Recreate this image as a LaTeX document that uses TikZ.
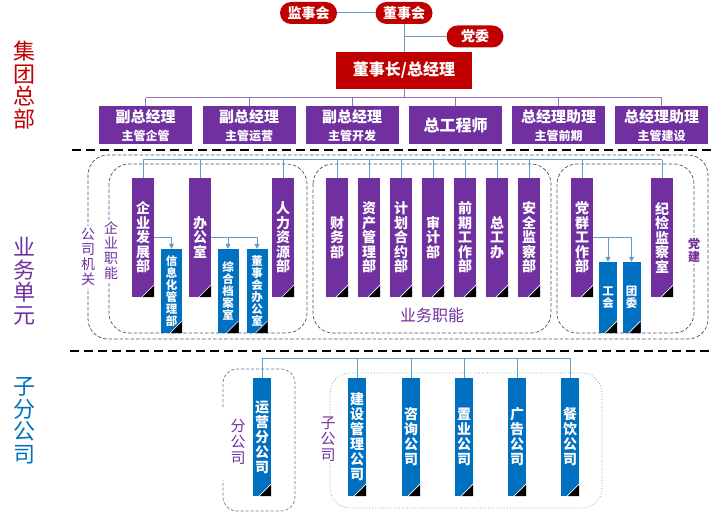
\documentclass[tikz,border=0pt]{standalone}
\usepackage{fontspec}
\setmainfont{Noto Sans CJK SC}
\usetikzlibrary{arrows.meta}
\definecolor{hqred}{RGB}{192,0,0}
\definecolor{unitpurple}{RGB}{112,48,160}
\definecolor{subblue}{RGB}{0,112,192}
\definecolor{linkblue}{RGB}{100,155,205}
\definecolor{linkpurple}{RGB}{150,115,190}
\definecolor{grpgray}{RGB}{85,75,105}
\definecolor{grpblue}{RGB}{95,125,155}

\begin{document}
\begin{tikzpicture}[x=1pt,y=-1pt,>={Triangle[length=5pt,width=5pt]}]
    \tikzset{
        pill/.style={
            fill=hqred,
            text=white,
            rounded corners=11pt,
            minimum width=57pt,
            minimum height=22pt,
            inner sep=0pt,
            font=\bfseries\fontsize{14}{14}\selectfont
        },
        chief/.style={
            fill=hqred,
            text=white,
            minimum width=136pt,
            minimum height=37pt,
            inner sep=0pt,
            font=\bfseries\fontsize{16}{16}\selectfont
        },
        vp/.style={
            fill=unitpurple,
            text=white,
            minimum width=93pt,
            minimum height=38pt,
            inner sep=0pt,
            align=center,
            font=\bfseries\fontsize{15}{18}\selectfont
        },
        corner/.style={
            path picture={
                \fill[black] (path picture bounding box.south east)
                    -- ++(0pt,12pt) -- ++(-12pt,-12pt) -- cycle;
                \draw[white,line width=0.7pt]
                    ([shift={(0pt,12pt)}]path picture bounding box.south east)
                    -- ([shift={(-12pt,0pt)}]path picture bounding box.south east);
            }
        },
        dept/.style={
            corner,
            fill=unitpurple,
            text=white,
            minimum width=22pt,
            minimum height=119pt,
            inner sep=0pt,
            align=center,
            font=\bfseries\fontsize{14}{14.5}\selectfont
        },
        office/.style={
            corner,
            fill=subblue,
            text=white,
            inner sep=0pt,
            align=center,
            font=\bfseries\fontsize{11.5}{12}\selectfont
        },
        firm/.style={
            corner,
            fill=subblue,
            text=white,
            minimum width=18pt,
            minimum height=118pt,
            inner sep=0pt,
            align=center,
            font=\bfseries\fontsize{14}{15}\selectfont
        },
        sidelabel/.style={align=center,font=\fontsize{22}{22.5}\selectfont},
        tag/.style={
            text=unitpurple,
            fill=white,
            align=center,
            inner sep=2pt,
            font=\fontsize{14}{15}\selectfont
        },
        link/.style={draw=linkblue,line width=1pt},
        bus/.style={draw=linkpurple,line width=1pt},
        sep/.style={draw=black,line width=2.8pt,dash pattern=on 9pt off 5pt},
        grp/.style={draw=grpgray,line width=0.7pt,dash pattern=on 3.5pt off 2pt,rounded corners=20pt},
        grpb/.style={draw=grpblue,line width=0.7pt,dash pattern=on 3pt off 2pt,rounded corners=14pt},
        grpc/.style={draw=linkblue,line width=0.7pt,dotted,rounded corners=20pt}
    }
    \useasboundingbox (0,0) rectangle (720,513);

    % group headquarters
    \node[pill] (jsh) at (308.5,13) {监事会};
    \node[pill] (dsh) at (404,13) {董事会};
    \node[pill] (dw) at (475,36.5) {党委};
    \node[chief] (ceo) at (404,70.5) {董事长/总经理};

    \draw[link] (jsh.east) -- (dsh.west);
    \draw[link] (dsh.south) -- (ceo.north);
    \draw[link] (dsh.south |- dw.west) -- (dw.west);

    \node[vp] (vp1) at (145.5,125.5) {副总经理\\{\fontsize{12}{12}\selectfont 主管企管}};
    \node[vp] (vp2) at (249,125.5) {副总经理\\{\fontsize{12}{12}\selectfont 主管运营}};
    \node[vp] (vp3) at (352,125.5) {副总经理\\{\fontsize{12}{12}\selectfont 主管开发}};
    \node[vp] (eng) at (455.5,125.5) {\fontsize{16}{16}\selectfont 总工程师};
    \node[vp] (vp5) at (558.5,125.5) {总经理助理\\{\fontsize{12}{12}\selectfont 主管前期}};
    \node[vp] (vp6) at (661.5,125.5) {总经理助理\\{\fontsize{12}{12}\selectfont 主管建设}};

    \coordinate (topbus) at (404,98);
    \draw[bus] (ceo.south) -- (topbus);
    \draw[bus] (vp1.north |- topbus) -- (vp6.north |- topbus);
    \foreach \n in {vp1,vp2,vp3,eng,vp5,vp6}
        \draw[bus] (\n.north) -- (\n.north |- topbus);

    \draw[sep] (72,150) -- (712,150);
    \draw[sep] (70,351) -- (712,351);

    % business units
    \draw[grp] (88,155) rectangle (708,339);
    \draw[grp] (109,164) rectangle (307,333);
    \draw[grp] (313,164) rectangle (551,333);
    \draw[grp] (557,164) rectangle (694,333);

    \node[tag] (jg) at (88,257) {公\\司\\机\\关};
    \node[tag] (qy) at (111,251) {企\\业\\职\\能};
    \node[tag,font=\bfseries\fontsize{12}{13}\selectfont] (dj) at (694,250) {党\\建};
    \node[tag,font=\fontsize{16}{16}\selectfont] (yw) at (432,315) {业务职能};

    \node[dept] (dev) at (143,237.5) {企\\业\\发\\展\\部};
    \node[dept] (office) at (200,237.5) {办\\公\\室};
    \node[dept] (hr) at (283,237.5) {人\\力\\资\\源\\部};
    \node[dept] (fin) at (337,237.5) {财\\务\\部};
    \node[dept] (asset) at (369,237.5) {资\\产\\管\\理\\部};
    \node[dept] (plan) at (401,237.5) {计\\划\\合\\约\\部};
    \node[dept] (audit) at (433,237.5) {审\\计\\部};
    \node[dept] (early) at (465,237.5) {前\\期\\工\\作\\部};
    \node[dept] (zgb) at (497,237.5) {总\\工\\办};
    \node[dept] (safety) at (529,237.5) {安\\全\\监\\察\\部};
    \node[dept] (party) at (582,237.5) {党\\群\\工\\作\\部};
    \node[dept] (discip) at (662,237.5) {纪\\检\\监\\察\\室};

    \node[office,minimum width=21pt,minimum height=84pt] (info) at (171.5,291) {信\\息\\化\\管\\理\\部};
    \node[office,minimum width=21pt,minimum height=84pt] (archive) at (228,291) {综\\合\\档\\案\\室};
    \node[office,minimum width=21pt,minimum height=84pt] (boardoff) at (257,291) {董\\事\\会\\办\\公\\室};
    \node[office,minimum width=18pt,minimum height=71pt] (union) at (608,297.5) {工\\会};
    \node[office,minimum width=18pt,minimum height=71pt] (league) at (631.5,297.5) {团\\委};

    \coordinate (midbus) at (400,160);
    \draw[link] (dev.north |- midbus) -- (discip.north |- midbus);
    \foreach \n in {dev,office,hr,fin,asset,plan,audit,early,zgb,safety,party,discip}
        \draw[link] (\n.north) -- (\n.north |- midbus);

    \draw[link,->] (dev.east) -| (info.north);
    \draw[link,->] (office.east) -| (archive.north);
    \draw[link,->] (office.east) -| (boardoff.north);
    \draw[link,->] (party.east) -| (union.north);
    \draw[link,->] (party.east) -| (league.north);

    % subsidiaries
    \draw[grpb] (223,407) -- (223,369) -- (295,369) -- (295,511) -- (223,511) -- (223,480);
    \draw[grpc] (330,373) rectangle (602,508);
    \node[tag,fill=none,font=\fontsize{15}{16}\selectfont] (fgs) at (238,442) {分\\公\\司};
    \node[tag,font=\fontsize{15}{16}\selectfont] (zgs) at (328,439) {子\\公\\司};

    \node[firm] (yy) at (262,437) {运\\营\\分\\公\\司};
    \node[firm] (js) at (357,437) {建\\设\\管\\理\\公\\司};
    \node[firm] (zx) at (411,437) {咨\\询\\公\\司};
    \node[firm] (zy) at (464,437) {置\\业\\公\\司};
    \node[firm] (gg) at (517,437) {广\\告\\公\\司};
    \node[firm] (cy) at (570,437) {餐\\饮\\公\\司};

    \coordinate (lowbus) at (400,358);
    \draw[link] (yy.north |- lowbus) -- (cy.north |- lowbus);
    \foreach \n in {yy,js,zx,zy,gg,cy}
        \draw[link] (\n.north) -- (\n.north |- lowbus);

    % side labels
    \node[sidelabel,text=hqred] (hq) at (24,85) {集\\团\\总\\部};
    \node[sidelabel,text=unitpurple] (bu) at (24,281) {业\\务\\单\\元};
    \node[sidelabel,text=subblue] (sub) at (24,421) {子\\分\\公\\司};
\end{tikzpicture}
\end{document}
